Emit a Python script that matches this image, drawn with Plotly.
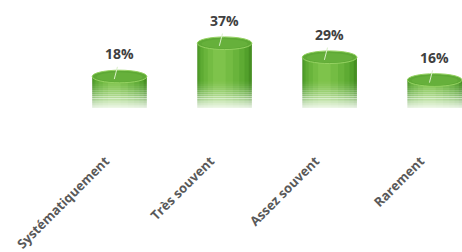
import plotly.graph_objects as go

categories = ["Systématiquement", "Très souvent", "Assez souvent", "Rarement"]
values = [18, 37, 29, 16]
labels = ["18%", "37%", "29%", "16%"]

fig = go.Figure()

# cylinder body: overlaid bars giving horizontal shading (offset highlight slightly left)
body_layers = [
    (0.52, 0.0, "#468f22"),
    (0.48, -0.01, "#52a02b"),
    (0.42, -0.02, "#5eab33"),
    (0.34, -0.03, "#69b43b"),
    (0.24, -0.04, "#74bc43"),
    (0.12, -0.05, "#7ec34b"),
]
for w, off, c in body_layers:
    fig.add_trace(go.Bar(x=categories, y=values, width=w, offset=off - w / 2,
                         marker=dict(color=c, line=dict(width=0)),
                         hoverinfo="skip", showlegend=False))

# bottom fade to white
fade_steps = 16
for k in range(fade_steps):
    op = 1.0 - k / fade_steps
    fig.add_trace(go.Bar(x=categories, y=[1.1] * len(categories), base=[-2 + 1.1 * k] * len(categories),
                         width=0.58, marker=dict(color="white", opacity=op ** 1.5, line=dict(width=0)),
                         hoverinfo="skip", showlegend=False))

# top ellipses, leader lines and value labels
for i, v in enumerate(values):
    fig.add_shape(type="circle", xref="x", yref="y", x0=i - 0.26, x1=i + 0.26, y0=v - 3.6, y1=v + 3.6,
                  fillcolor="#5ea935", line=dict(color="#95d262", width=1), layer="above")
    fig.add_shape(type="circle", xref="x", yref="y", x0=i - 0.22, x1=i + 0.22, y0=v - 3.0, y1=v + 2.4,
                  fillcolor="#66b03b", line=dict(width=0), layer="above")
    fig.add_shape(type="line", xref="x", yref="y", x0=i - 0.02, x1=i - 0.05, y0=v + 5.5, y1=v - 1.5,
                  line=dict(color="#d9efc8", width=1), layer="above")
    fig.add_annotation(x=i, y=v, text=labels[i], showarrow=False, yanchor="bottom", yshift=11,
                       font=dict(family="Open Sans", size=14, color="#404040", weight="bold"))

fig.update_layout(
    barmode="overlay",
    width=462, height=252,
    margin=dict(l=67, r=0, t=0, b=102, autoexpand=False),
    paper_bgcolor="white", plot_bgcolor="white",
    xaxis=dict(range=[-0.5, 3.26], tickangle=-45, showgrid=False, zeroline=False, showline=False,
               automargin=False, ticks="", ticklabelshift=-14,
               tickfont=dict(family="Open Sans", size=13, color="#595959", weight="bold")),
    yaxis=dict(range=[-24, 61.7], visible=False),
)

fig.write_html("out.html", config={"displayModeBar": False},
               post_script="document.body.style.margin='0';document.body.style.overflow='hidden';")
